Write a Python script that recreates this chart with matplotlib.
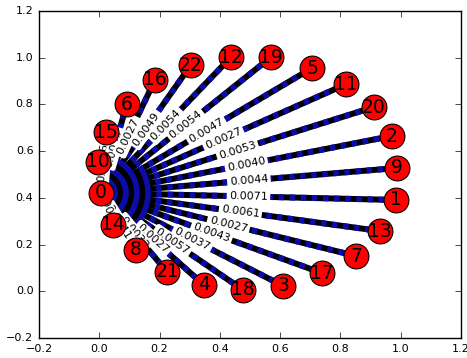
import numpy as np
import matplotlib
matplotlib.use('Agg')
import matplotlib.pyplot as plt
from matplotlib.collections import LineCollection

plt.style.use('classic')

# node positions (node 0 is the hub)
nodes = [0, 10, 15, 6, 16, 22, 12, 19, 5, 11, 20, 2, 9, 1, 13, 7, 17, 3, 18, 4, 21, 8, 14]
xs = [0.005, -0.004, 0.022, 0.092, 0.185, 0.304, 0.437, 0.570, 0.706, 0.819, 0.911,
      0.971, 0.988, 0.985, 0.931, 0.852, 0.739, 0.610, 0.477, 0.347, 0.225, 0.122, 0.046]
ys = [0.421, 0.554, 0.682, 0.802, 0.905, 0.969, 1.003, 1.003, 0.956, 0.887, 0.789,
      0.665, 0.528, 0.391, 0.258, 0.151, 0.078, 0.023, 0.006, 0.027, 0.083, 0.177, 0.284]
# edge weights for hub -> nodes[1:]
weights = [0.0038, 0.0046, 0.0035, 0.0027, 0.0049, 0.0054, 0.0054, 0.0047, 0.0027,
           0.0053, 0.0040, 0.0044, 0.0071, 0.0061, 0.0027, 0.0043, 0.0037, 0.0057,
           0.0027, 0.0032, 0.0041, 0.0050]

fig = plt.figure(figsize=(4.67, 3.58), dpi=100, facecolor='white')
ax = fig.add_axes([0.0835, 0.056, 0.9035, 0.913])
ax.set_xlim(-0.2, 1.2)
ax.set_ylim(-0.2, 1.2)
ax.tick_params(labelsize=8, length=4)

segs = [[(xs[0], ys[0]), (xs[i], ys[i])] for i in range(1, len(nodes))]
ax.add_collection(LineCollection(segs, colors='black', linewidths=4.3, zorder=1))
ax.add_collection(LineCollection(segs, colors='#0c0ca8', linewidths=4.3,
                                 linestyles=[(0, (4, 4))], capstyle='butt', zorder=1.1))

fig.canvas.draw()
for i in range(1, len(nodes)):
    p0 = ax.transData.transform((xs[0], ys[0]))
    p1 = ax.transData.transform((xs[i], ys[i]))
    ang = np.degrees(np.arctan2(p1[1] - p0[1], p1[0] - p0[0]))
    if ang > 90:
        ang -= 180
    if ang < -90:
        ang += 180
    mx, my = (xs[0] + xs[i]) / 2, (ys[0] + ys[i]) / 2
    ax.text(mx, my, '%.4f' % weights[i - 1], fontsize=8, rotation=ang,
            rotation_mode='anchor', ha='center', va='center', zorder=2,
            bbox=dict(boxstyle='round,pad=0.15', fc='white', ec='white'))

ax.scatter(xs, ys, s=320, c='red', edgecolors='black', linewidths=0.8, zorder=3)
for n, x, y in zip(nodes, xs, ys):
    ax.text(x, y, str(n), fontsize=13.5, ha='center', va='center', zorder=4)

fig.savefig('out.png', dpi=100, facecolor='white')
